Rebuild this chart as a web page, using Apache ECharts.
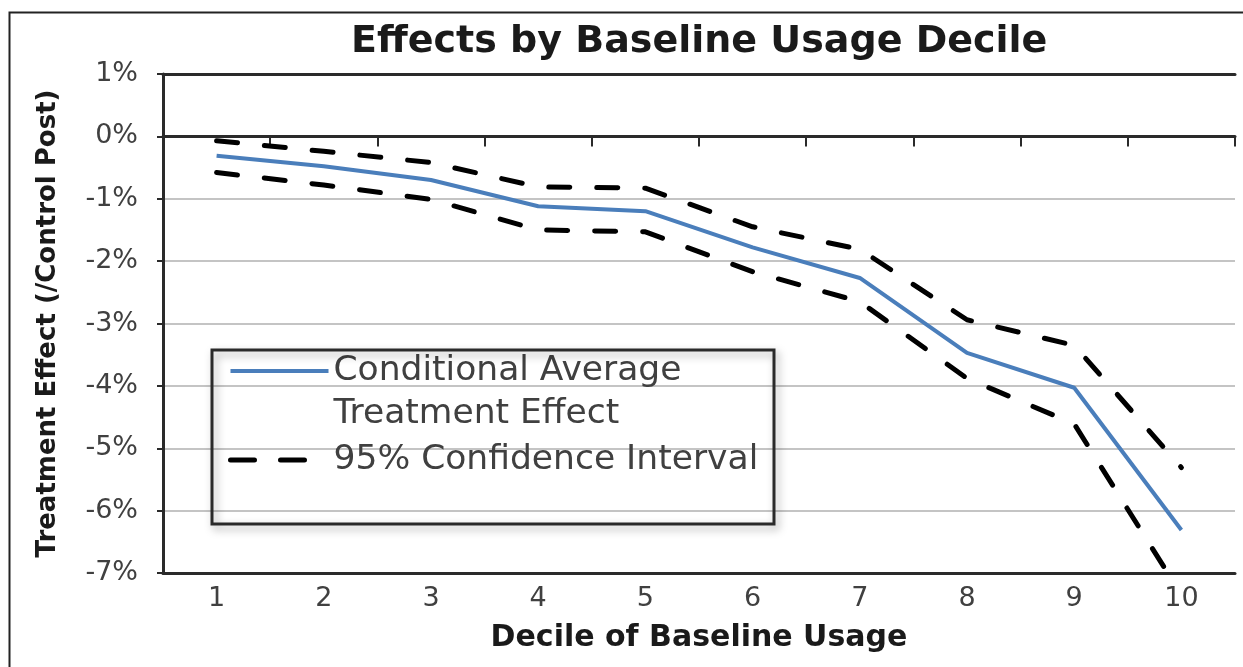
<!DOCTYPE html>
<html>
<head>
<meta charset="utf-8">
<script src="https://cdn.jsdelivr.net/npm/echarts@6/dist/echarts.min.js"></script>
<style>
html,body{margin:0;padding:0;background:#fff;}
#chart{width:1243px;height:667px;}
</style>
</head>
<body>
<div id="chart"></div>
<script>
// ---- data ----
const deciles = ['1','2','3','4','5','6','7','8','9','10'];
const cate = [-0.31, -0.48, -0.70, -1.12, -1.20, -1.78, -2.27, -3.47, -4.03, -6.31];
const ciUpper = [-0.07, -0.24, -0.42, -0.81, -0.83, -1.45, -1.81, -2.94, -3.35, -5.31];
const ciLower = [-0.58, -0.78, -1.01, -1.50, -1.53, -2.17, -2.65, -3.88, -4.61, -7.35];
const yTicks = {min: -7, max: 1, interval: 1};
const titleText = 'Effects by Baseline Usage Decile';
const xName = 'Decile of Baseline Usage';
const yName = 'Treatment Effect (/Control Post)';
const cateName = 'Conditional Average Treatment Effect';
const ciName = '95% Confidence Interval';

const FONT = 'DejaVu Sans';
const chart = echarts.init(document.getElementById('chart'), null, {renderer: 'canvas'});

const dash = [21, 27];

const option = {
  backgroundColor: '#fff',
  animation: false,
  title: {
    text: titleText,
    left: 351,
    top: 23,
    padding: 0,
    textStyle: {fontFamily: FONT, fontWeight: 'bold', fontSize: 38, color: '#1a1a1a'}
  },
  grid: {left: 163, right: 8, top: 74, bottom: 94, containLabel: false, outerBoundsMode: 'none'},
  legend: {
    orient: 'vertical',
    left: 228,
    top: 306.5,
    selectedMode: false,
    itemWidth: 98,
    itemHeight: 14,
    itemGap: 3,
    padding: 0,
    borderWidth: 0,
    backgroundColor: 'transparent',
    itemStyle: {opacity: 0},
    textStyle: {fontFamily: FONT, fontSize: 34.5, color: '#404040', lineHeight: 43},
    formatter: function (name) {
      return name === cateName ? '\nConditional Average\nTreatment Effect' : name;
    },
    data: [
      {name: cateName, lineStyle: {width: 4, color: '#4a7ebb'}},
      {name: ciName, lineStyle: {width: 5, color: '#000', type: [24, 26], cap: 'round'}}
    ]
  },
  xAxis: [
    {
      type: 'category', data: deciles, position: 'bottom', boundaryGap: true,
      axisLine: {onZero: true, lineStyle: {color: '#2a2a2a', width: 3}},
      axisTick: {show: true, length: 10, lineStyle: {color: '#2a2a2a', width: 2}},
      axisLabel: {show: false},
      splitLine: {show: false}
    },
    {
      type: 'category', data: deciles, position: 'bottom', boundaryGap: true,
      name: xName, nameLocation: 'middle', nameGap: 50,
      nameTextStyle: {fontFamily: FONT, fontWeight: 'bold', fontSize: 30, color: '#1a1a1a'},
      axisLine: {onZero: false, lineStyle: {color: '#2a2a2a', width: 3}},
      axisTick: {show: false},
      axisLabel: {show: true, margin: 12, fontFamily: FONT, fontSize: 27, color: '#404040'},
      splitLine: {show: false}
    },
    {
      type: 'category', data: deciles, position: 'top', boundaryGap: true,
      axisLine: {onZero: false, lineStyle: {color: '#2a2a2a', width: 3}},
      axisTick: {show: false},
      axisLabel: {show: false},
      splitLine: {show: false}
    }
  ],
  yAxis: {
    type: 'value', min: yTicks.min, max: yTicks.max, interval: yTicks.interval,
    name: yName, nameLocation: 'middle', nameRotate: 90, nameGap: 102,
    nameTextStyle: {fontFamily: FONT, fontWeight: 'bold', fontSize: 26, color: '#1a1a1a'},
    axisLine: {show: true, onZero: false, lineStyle: {color: '#2a2a2a', width: 3}},
    axisTick: {show: true, length: 6, lineStyle: {color: '#2a2a2a', width: 2}},
    axisLabel: {margin: 25, fontFamily: FONT, fontSize: 27, color: '#404040',
      formatter: function (v) { return v + '%'; }},
    splitLine: {show: true, lineStyle: {color: '#c4c4c4', width: 2}}
  },
  series: [
    {
      name: cateName, type: 'line', data: cate, xAxisIndex: 0,
      symbol: 'none', smooth: false,
      lineStyle: {color: '#4a7ebb', width: 4},
      itemStyle: {color: '#4a7ebb'},
      z: 3
    },
    {
      name: ciName, type: 'line', data: ciUpper, xAxisIndex: 0,
      symbol: 'none',
      lineStyle: {color: '#000', width: 5, type: dash, cap: 'round'},
      itemStyle: {color: '#000'},
      z: 2
    },
    {
      name: ciName, type: 'line', data: ciLower, xAxisIndex: 0,
      symbol: 'none',
      lineStyle: {color: '#000', width: 5, type: dash, cap: 'round'},
      itemStyle: {color: '#000'},
      z: 2
    }
  ],
  graphic: [
    {
      type: 'rect', silent: true, z: -1,
      shape: {x: 9.5, y: 12.5, width: 1300, height: 700},
      style: {fill: 'transparent', stroke: '#222', lineWidth: 2}
    },
    {
      type: 'rect', silent: true, z: 50,
      shape: {x: 212, y: 350, width: 562, height: 174},
      style: {fill: 'transparent', stroke: '#2a2a2a', lineWidth: 3,
        shadowBlur: 8, shadowColor: 'rgba(0,0,0,0.35)', shadowOffsetX: 3, shadowOffsetY: 4}
    }
  ]
};
chart.setOption(option);
</script>
</body>
</html>
